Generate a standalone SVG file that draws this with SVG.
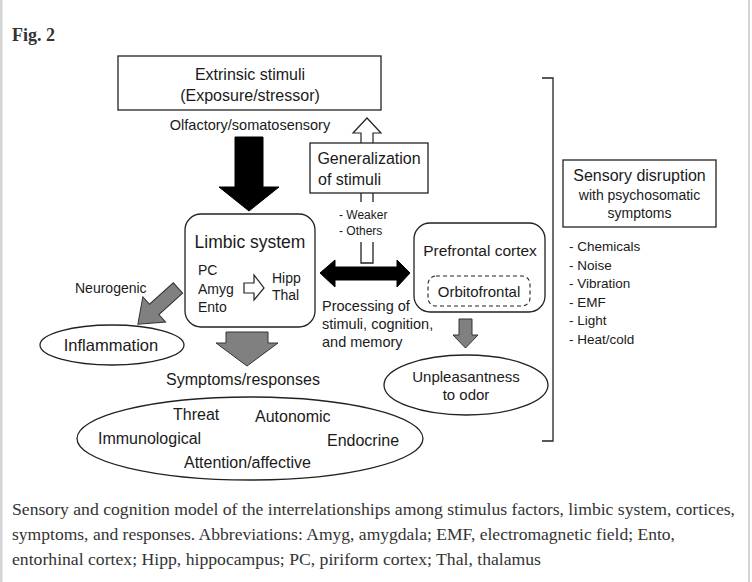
<svg xmlns="http://www.w3.org/2000/svg" width="752" height="582" viewBox="0 0 752 582">
<style>
.t{font-family:"Liberation Sans",Arial,sans-serif;fill:#1a1a1a}
.c{text-anchor:middle}
.box{fill:#fff;stroke:#222;stroke-width:1.3}
.ln{fill:none;stroke:#222;stroke-width:1.3}
.gray{fill:#808080;stroke:#333;stroke-width:1}
.blk{fill:#000;stroke:#000;stroke-width:1}
.hol{fill:#fff;stroke:#222;stroke-width:1.2}
.cap{font-family:"Liberation Serif","Times New Roman",serif;fill:#333;font-size:16.5px}
</style>
<rect x="0" y="0" width="752" height="582" fill="#fff"/>
<rect x="0" y="0" width="2.5" height="582" fill="#d4d4d4"/>
<rect x="748" y="0" width="2" height="582" fill="#d4d4d4"/>
<text x="12" y="41" font-family="Liberation Serif,serif" font-weight="bold" font-size="18" fill="#333">Fig. 2</text>

<g id="connectors">
  <path class="blk" d="M235,137 H263 V187 H279 L249,211 L219,187 H235 Z"/>
  <path class="hol" d="M361,145 V133 H353 L367,118 L381,133 H373 V145"/>
  <path class="ln" d="M361,193 V202 M373,193 V202"/>
  <path class="ln" d="M361,242 V263 H373 V242"/>
  <path class="blk" d="M320,273 L335,260 V267 H397 V260 L410,273 L397,287 V280 H335 V287 Z"/>
  <path class="gray" d="M459,319 H472 V335 H478 L465.5,348 L453,335 H459 Z"/>
  <path class="gray" d="M226,332 H268 V343 H278 L247,366 L216,343 H226 Z"/>
  <path class="gray" transform="translate(178,288) rotate(138)" d="M0,-7 L32,-7 L32,-17 L54,0 L32,17 L32,7 L0,7 Z"/>
  <path class="ln" d="M542,78 H553 V441 H542"/>
</g>

<g id="extrinsic">
  <rect class="box" x="118" y="56" width="263" height="54"/>
  <text class="t c" x="250" y="80" font-size="16">Extrinsic stimuli</text>
  <text class="t c" x="250" y="101" font-size="16">(Exposure/stressor)</text>
</g>
<g id="olfactory">
  <text class="t c" x="250" y="130" font-size="14.5">Olfactory/somatosensory</text>
</g>
<g id="generalization">
  <rect class="box" x="310" y="143" width="118" height="50"/>
  <text class="t c" x="369" y="164" font-size="16">Generalization</text>
  <text class="t" x="318" y="185" font-size="16">of stimuli</text>
</g>
<g id="weaker">
  <text class="t" x="339" y="219" font-size="12">- Weaker</text>
  <text class="t" x="339" y="235" font-size="12">- Others</text>
</g>
<g id="limbic">
  <rect class="box" x="185" y="214" width="130" height="113" rx="16"/>
  <text class="t c" x="250" y="248" font-size="17.5">Limbic system</text>
  <text class="t" x="198" y="275" font-size="14">PC</text>
  <text class="t" x="198" y="294" font-size="14">Amyg</text>
  <text class="t" x="198" y="312" font-size="14">Ento</text>
  <path class="hol" d="M244,283 H254 V275 L264,288 L254,300 V293 H244 Z"/>
  <text class="t" x="272" y="283" font-size="14">Hipp</text>
  <text class="t" x="272" y="300" font-size="14">Thal</text>
</g>
<g id="prefrontal">
  <rect class="box" x="414" y="223" width="131" height="89" rx="16"/>
  <text class="t c" x="480" y="256" font-size="15.5">Prefrontal cortex</text>
  <rect x="428" y="276" width="102" height="30" rx="8" fill="none" stroke="#222" stroke-width="1.1" stroke-dasharray="4,3"/>
  <text class="t c" x="479" y="297" font-size="15">Orbitofrontal</text>
</g>
<g id="processing">
  <text class="t" x="322" y="311" font-size="14.5">Processing of</text>
  <text class="t" x="322" y="329" font-size="14.5">stimuli, cognition,</text>
  <text class="t" x="322" y="347" font-size="14.5">and memory</text>
</g>
<g id="neurogenic">
  <text class="t" x="75" y="293" font-size="14">Neurogenic</text>
</g>
<g id="inflammation">
  <ellipse class="box" cx="112" cy="345" rx="72" ry="20"/>
  <text class="t c" x="111" y="351" font-size="16.5">Inflammation</text>
</g>
<g id="unpleasantness">
  <ellipse class="box" cx="466" cy="385" rx="82" ry="30"/>
  <text class="t c" x="466" y="382" font-size="15">Unpleasantness</text>
  <text class="t c" x="466" y="400" font-size="15">to odor</text>
</g>
<g id="symptoms">
  <text class="t c" x="243" y="385" font-size="16">Symptoms/responses</text>
  <ellipse class="box" cx="250" cy="438.5" rx="173" ry="41.5"/>
  <text class="t" x="173" y="420" font-size="16">Threat</text>
  <text class="t" x="255" y="422" font-size="16">Autonomic</text>
  <text class="t" x="98" y="444" font-size="16">Immunological</text>
  <text class="t" x="327" y="446" font-size="16">Endocrine</text>
  <text class="t" x="184" y="468" font-size="16">Attention/affective</text>
</g>
<g id="sensory">
  <rect class="box" x="563" y="160" width="153" height="67"/>
  <text class="t c" x="639.5" y="181" font-size="16">Sensory disruption</text>
  <text class="t c" x="639.5" y="200" font-size="14">with psychosomatic</text>
  <text class="t c" x="639.5" y="218" font-size="14">symptoms</text>
</g>
<g id="list">
  <text class="t" x="569" y="251" font-size="13.5">- Chemicals</text>
  <text class="t" x="569" y="269.5" font-size="13.5">- Noise</text>
  <text class="t" x="569" y="288" font-size="13.5">- Vibration</text>
  <text class="t" x="569" y="306.5" font-size="13.5">- EMF</text>
  <text class="t" x="569" y="325" font-size="13.5">- Light</text>
  <text class="t" x="569" y="343.5" font-size="13.5">- Heat/cold</text>
</g>
<g id="caption">
  <text class="cap" x="12" y="515" textLength="723" lengthAdjust="spacingAndGlyphs">Sensory and cognition model of the interrelationships among stimulus factors, limbic system, cortices,</text>
  <text class="cap" x="12" y="540" textLength="663" lengthAdjust="spacingAndGlyphs">symptoms, and responses. Abbreviations: Amyg, amygdala; EMF, electromagnetic field; Ento,</text>
  <text class="cap" x="12" y="565" textLength="529" lengthAdjust="spacingAndGlyphs">entorhinal cortex; Hipp, hippocampus; PC, piriform cortex; Thal, thalamus</text>
</g>
</svg>
